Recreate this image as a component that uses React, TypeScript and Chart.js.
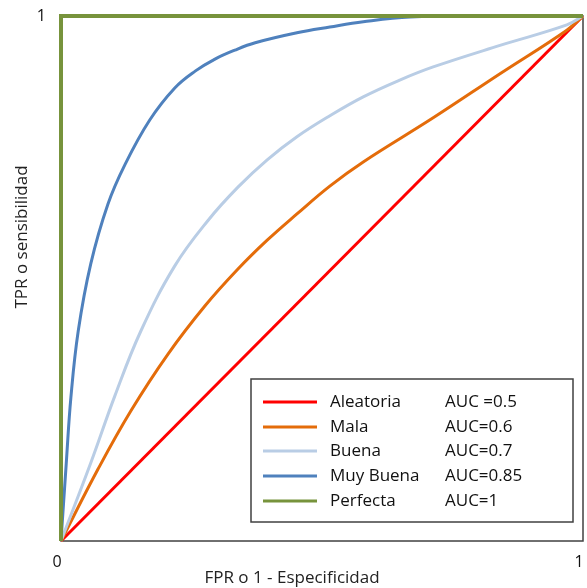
import React, { useEffect, useRef } from "react";
import { Chart, registerables } from "chart.js";

Chart.register(...registerables);

// ---- data ----
const seriesNames = ["Aleatoria", "Mala", "Buena", "Muy Buena", "Perfecta"];
const aucLabels = ["AUC =0.5", "AUC=0.6", "AUC=0.7", "AUC=0.85", "AUC=1"];
const seriesColors = ["#ff0000", "#e46c0a", "#b9cde5", "#4f81bd", "#77933c"];

const aleatoriaX = [0, 1];
const aleatoriaY = [0, 1];

const malaX = [0, 0.071, 0.134, 0.205, 0.276, 0.339, 0.395, 0.452, 0.515, 0.579, 0.713, 0.841, 0.969, 1];
const malaY = [0, 0.137, 0.248, 0.356, 0.448, 0.518, 0.573, 0.623, 0.676, 0.722, 0.806, 0.89, 0.973, 1];

const buenaX = [0, 0.0575, 0.103, 0.153, 0.218, 0.282, 0.339, 0.395, 0.452, 0.515, 0.579, 0.649, 0.713, 0.841, 0.969, 1];
const buenaY = [0, 0.15, 0.276, 0.4, 0.524, 0.611, 0.674, 0.726, 0.77, 0.81, 0.846, 0.878, 0.903, 0.944, 0.983, 1];

const muyBuenaX = [0, 0.01, 0.019, 0.033, 0.057, 0.09, 0.123, 0.17, 0.218, 0.257, 0.295, 0.333, 0.372, 0.452, 0.515, 0.579, 0.669, 0.803, 1];
const muyBuenaY = [0, 0.147, 0.274, 0.4, 0.528, 0.642, 0.718, 0.802, 0.863, 0.895, 0.918, 0.935, 0.949, 0.968, 0.979, 0.989, 0.998, 1, 1];

const perfectaX = [0, 0, 1];
const perfectaY = [0, 1, 1];

const xTickValues = [0, 1];
const yTickValues = [1];
const xTitle = "FPR o 1 - Especificidad";
const yTitle = "TPR o sensibilidad";

const seriesX = [aleatoriaX, malaX, buenaX, muyBuenaX, perfectaX];
const seriesY = [aleatoriaY, malaY, buenaY, muyBuenaY, perfectaY];

const FONT = "'Open Sans', 'DejaVu Sans', sans-serif";

const decorPlugin = {
  id: "decor",
  beforeDatasetsDraw(chart: any) {
    const { ctx, chartArea } = chart;
    ctx.save();
    ctx.strokeStyle = "#404040";
    ctx.lineWidth = 1.5;
    ctx.strokeRect(chartArea.left, chartArea.top, chartArea.right - chartArea.left, chartArea.bottom - chartArea.top);
    ctx.restore();
  },
  afterDatasetsDraw(chart: any) {
    const { ctx } = chart;
    ctx.save();
    // legend box
    const bx = 251, by = 379, bw = 322, bh = 143;
    ctx.fillStyle = "#ffffff";
    ctx.fillRect(bx, by, bw, bh);
    ctx.strokeStyle = "#404040";
    ctx.lineWidth = 1.5;
    ctx.strokeRect(bx, by, bw, bh);
    const rowY = [402, 427, 451, 476, 501];
    ctx.font = `17px ${FONT}`;
    ctx.textBaseline = "middle";
    ctx.textAlign = "left";
    for (let i = 0; i < seriesNames.length; i++) {
      ctx.strokeStyle = seriesColors[i];
      ctx.lineWidth = 3;
      ctx.beginPath();
      ctx.moveTo(263, rowY[i]);
      ctx.lineTo(317, rowY[i]);
      ctx.stroke();
      ctx.fillStyle = "#111";
      ctx.fillText(seriesNames[i], 330, rowY[i]);
      ctx.fillText(aucLabels[i], 445, rowY[i]);
    }
    // axis titles
    ctx.font = `17px ${FONT}`;
    ctx.fillStyle = "#222";
    ctx.textAlign = "center";
    ctx.fillText(xTitle, 292, 578);
    ctx.translate(22, 237);
    ctx.rotate(-Math.PI / 2);
    ctx.fillText(yTitle, 0, 0);
    ctx.restore();
  },
};

export default function App() {
  const ref = useRef<HTMLCanvasElement>(null);
  useEffect(() => {
    if (!ref.current) return;
    const datasets = seriesNames.map((name, i) => ({
      label: name,
      data: seriesX[i].map((x, j) => ({ x, y: seriesY[i][j] })),
      borderColor: seriesColors[i],
      backgroundColor: seriesColors[i],
      borderWidth: i === 4 ? 4 : 3,
      pointRadius: 0,
      tension: i === 0 || i === 4 ? 0 : 0.4,
      cubicInterpolationMode: "default",
      fill: false,
      clip: 6,
      order: 4 - i,
    }));
    const chart = new Chart(ref.current, {
      type: "line",
      data: { datasets } as any,
      options: {
        animation: false,
        responsive: false,
        maintainAspectRatio: false,
        layout: { padding: { left: 0, right: 4, top: 16, bottom: 0 } },
        plugins: { legend: { display: false }, tooltip: { enabled: false } },
        scales: {
          x: {
            type: "linear",
            min: 0,
            max: 1,
            grid: { display: false, drawTicks: false },
            border: { display: false },
            ticks: { padding: 12, labelOffset: -4, color: "#111", font: { family: FONT, size: 16 } },
            afterBuildTicks: (s: any) => {
              s.ticks = xTickValues.map((v) => ({ value: v }));
            },
            afterFit: (s: any) => {
              s.height = 47;
              s.paddingLeft = 0;
              s.paddingRight = 0;
            },
          },
          y: {
            type: "linear",
            min: 0,
            max: 1,
            grid: { display: false, drawTicks: false },
            border: { display: false },
            ticks: { padding: 15, color: "#111", font: { family: FONT, size: 16 } },
            afterBuildTicks: (s: any) => {
              s.ticks = yTickValues.map((v) => ({ value: v }));
            },
            afterFit: (s: any) => {
              s.width = 61;
              s.paddingTop = 0;
              s.paddingBottom = 0;
            },
          },
        },
      } as any,
      plugins: [decorPlugin],
    });
    return () => chart.destroy();
  }, []);
  return (
    <div style={{ position: "fixed", left: 0, top: 0, width: 587, height: 588, background: "#fff" }}>
      <canvas ref={ref} width={587} height={588} style={{ width: 587, height: 588 }} />
    </div>
  );
}
